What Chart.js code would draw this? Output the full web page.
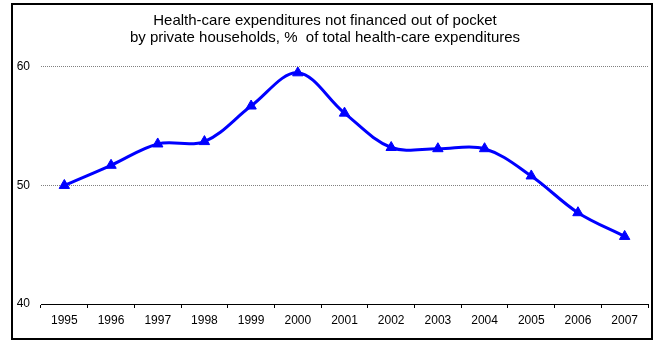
<!DOCTYPE html>
<html>
<head>
<meta charset="utf-8">
<script src="https://cdn.jsdelivr.net/npm/chart.js@4.4.1/dist/chart.umd.min.js"></script>
<style>
  html, body { margin: 0; padding: 0; background: #fff; }
  #wrap { width: 655px; height: 341px; position: relative; }
</style>
</head>
<body>
<div id="wrap"><canvas id="chart"></canvas></div>
<script>
const years = ['1995', '1996', '1997', '1998', '1999', '2000', '2001',
               '2002', '2003', '2004', '2005', '2006', '2007'];
const shareNotOutOfPocket = [50.0, 51.7, 53.5, 53.7, 56.7, 59.5, 56.1,
                             53.2, 53.1, 53.1, 50.8, 47.7, 45.7];
const yTicks = [40, 50, 60];
const titleLines = ['Health-care expenditures not financed out of pocket',
                    'by private households, %  of total health-care expenditures'];

// thin black frame round the whole chart
const frame = {
    id: 'frame',
    afterDraw(chart) {
        const ctx = chart.ctx;
        ctx.save();
        ctx.strokeStyle = '#000';
        ctx.lineWidth = 2;
        ctx.strokeRect(12, 4, 640, 335);
        ctx.restore();
    }
};

const ctx = document.getElementById('chart');
const chart = new Chart(ctx, {
    type: 'line',
    data: {
        labels: years,
        datasets: [{
            data: shareNotOutOfPocket,
            borderColor: '#0000ff',
            backgroundColor: '#0000ff',
            borderWidth: 3,
            tension: 0.35,
            pointStyle: 'triangle',
            pointRadius: 6,
            pointHoverRadius: 6,
            pointBorderWidth: 1
        }]
    },
    options: {
        responsive: true,
        maintainAspectRatio: false,
        animation: false,
        events: [],
        layout: { padding: { top: 6, right: 5, left: 0, bottom: 0 } },
        plugins: {
            legend: { display: false },
            tooltip: { enabled: false },
            title: {
                display: true,
                text: titleLines,
                color: '#000',
                font: { family: 'Liberation Sans, Arial, sans-serif', size: 15, weight: 'normal', lineHeight: 1.13 },
                padding: { top: 6, bottom: 21 }
            }
        },
        scales: {
            x: {
                offset: true,
                grid: {
                    offset: true,
                    drawOnChartArea: false,
                    color: '#000',
                    tickLength: 4
                },
                border: { color: '#000', width: 1 },
                ticks: {
                    color: '#000',
                    padding: 5,
                    maxRotation: 0,
                    font: { family: 'Liberation Sans, Arial, sans-serif', size: 12 }
                },
                afterFit(scale) { scale.height = 37; }
            },
            y: {
                min: yTicks[0],
                max: yTicks[yTicks.length - 1],
                afterBuildTicks(scale) {
                    scale.ticks = yTicks.map(v => ({ value: v }));
                },
                grid: {
                    drawTicks: false,
                    color: c => c.tick && c.tick.value === yTicks[0] ? 'rgba(0,0,0,0)' : '#808080',
                    lineWidth: 1
                },
                border: { display: false, dash: [1, 1] },
                ticks: {
                    color: '#000',
                    padding: 11,
                    font: { family: 'Liberation Sans, Arial, sans-serif', size: 12 }
                },
                afterFit(scale) { scale.width = 41; }
            }
        }
    },
    plugins: [frame]
});
</script>
</body>
</html>
